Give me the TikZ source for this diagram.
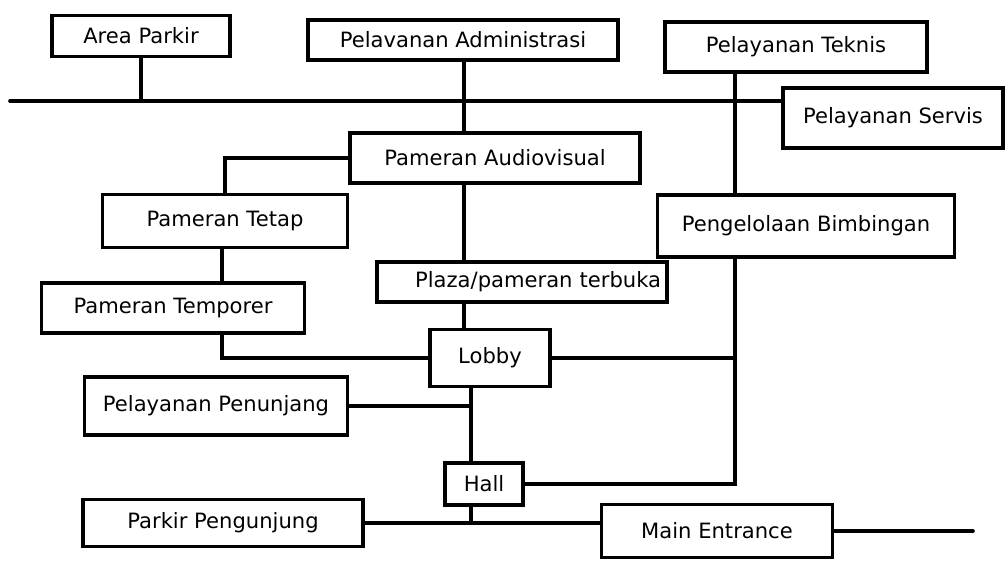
\documentclass[tikz,border=0pt]{standalone}
\usepackage{fontspec}
\setmainfont{DejaVu Sans}
\begin{document}
\begin{tikzpicture}[
        x=0.025cm, y=-0.025cm,
        box/.style={draw, line width=2.6pt, font=\fontsize{15}{17}\selectfont},
        link/.style={line width=2.6pt}
    ]
        \useasboundingbox (0,0) rectangle (1006,560);

        % Upper blocks
        \node[box, minimum width=4.45cm, minimum height=1.03cm] (park) at (141,36) {Area Parkir};
        \node[box, minimum width=7.75cm, minimum height=1.0cm] (adm) at (463,40) {Pelavanan Administrasi};
        \node[box, minimum width=6.55cm, minimum height=1.25cm] (tek) at (796,47) {Pelayanan Teknis};
        \node[box, minimum width=5.5cm, minimum height=1.5cm] (serv) at (893,118) {Pelayanan Servis};

        % Exhibition blocks
        \node[box, minimum width=7.25cm, minimum height=1.25cm] (audio) at (495,158) {Pameran Audiovisual};
        \node[box, minimum width=7.43cm, minimum height=1.55cm] (bimb) at (806,226) {Pengelolaan Bimbingan};
        \node[box, minimum width=6.13cm, minimum height=1.33cm] (tetap) at (225,221) {Pameran Tetap};
        \node[box, minimum width=7.25cm, minimum height=1.0cm, text width=6.95cm, align=right] (plaza) at (522,282) {Plaza/pameran terbuka};
        \node[box, minimum width=6.58cm, minimum height=1.25cm] (temp) at (173,308) {Pameran Temporer};

        % Lower blocks
        \node[box, minimum width=3.0cm, minimum height=1.43cm] (lobby) at (490,358) {Lobby};
        \node[box, minimum width=6.58cm, minimum height=1.45cm] (penunjang) at (216,406) {Pelayanan Penunjang};
        \node[box, minimum width=1.95cm, minimum height=1.05cm] (hall) at (484,484) {Hall};
        \node[box, minimum width=7.0cm, minimum height=1.18cm] (pengunjung) at (223,523) {Parkir Pengunjung};
        \node[box, minimum width=5.78cm, minimum height=1.33cm] (mainent) at (717,531) {Main Entrance};

        % Free ends and vertical runs
        \coordinate (lft) at (10,101);
        \coordinate (rgt) at (973,531);
        \coordinate (vm) at (464,0);
        \coordinate (vr) at (735,0);
        \coordinate (vh) at (471,0);
        \coordinate (vl) at (222,0);

        % Connectors
        \draw[link, line cap=round] (lft) -- (lft -| serv.west);
        \draw[link] (park.south) -- (park.south |- lft);
        \draw[link] (vm |- adm.south) -- (vm |- audio.north);
        \draw[link] (vr |- tek.south) -- (vr |- bimb.north);
        \draw[link] (audio.west) -| (tetap.north);
        \draw[link] (vl |- tetap.south) -- (vl |- temp.north);
        \draw[link] (vl |- temp.south) |- (lobby.west);
        \draw[link] (vm |- audio.south) -- (vm |- plaza.north);
        \draw[link] (vm |- plaza.south) -- (vm |- lobby.north);
        \draw[link] (lobby.east) -- (vr |- lobby.east);
        \draw[link] (vr |- bimb.south) |- (hall.east);
        \draw[link] (vh |- lobby.south) -- (vh |- hall.north);
        \draw[link] (penunjang.east) -- (vh |- penunjang.east);
        \draw[link] (vh |- hall.south) -- (vh |- pengunjung.east);
        \draw[link] (pengunjung.east) -- (pengunjung.east -| mainent.west);
        \draw[link, line cap=round] (mainent.east) -- (rgt);
    \end{tikzpicture}
\end{document}
